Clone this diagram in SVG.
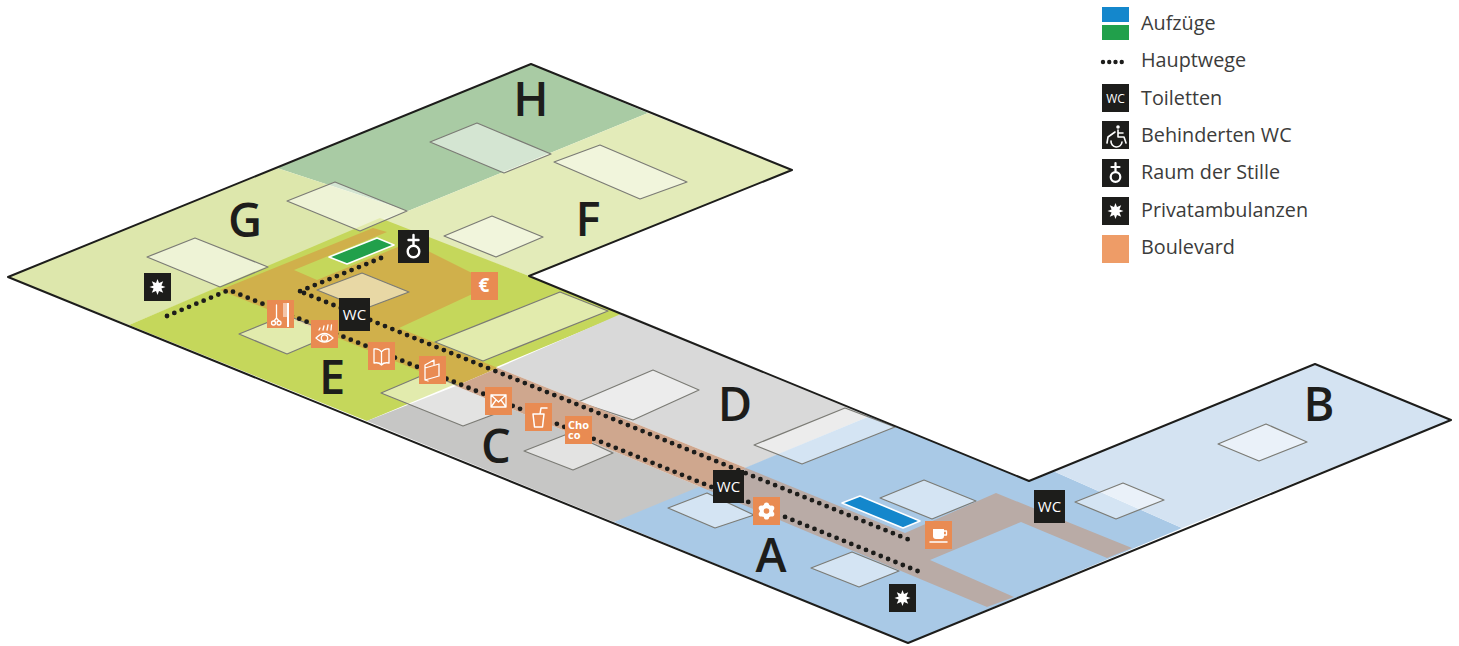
<svg xmlns="http://www.w3.org/2000/svg" xmlns:xlink="http://www.w3.org/1999/xlink" width="1459" height="646" viewBox="0 0 1459 646">
<style>
.room{fill:#fff;fill-opacity:.5;stroke:#7b7b75;stroke-width:1.2;stroke-linejoin:round}
.path{fill:none;stroke:#1d1d1b;stroke-width:4.8;stroke-linecap:round;stroke-dasharray:0 7.95}
.k{fill:#1d1d1b}.o{fill:#e98b52}
.wl{fill:none;stroke:#fff;stroke-width:1.3;stroke-linecap:round;stroke-linejoin:round}
.wt{fill:#fff;font-family:"Open Sans","Noto Sans",sans-serif}
.big{fill:#1d1d1b;font-family:"Open Sans","Noto Sans",sans-serif;font-size:47px;font-weight:600;text-anchor:middle}
.lg{fill:#3c3c3b;font-family:"Open Sans","Noto Sans",sans-serif;font-size:19.8px}
.lift{stroke:#fff;stroke-width:1.6;stroke-linejoin:round}
</style>
<defs>
<polygon id="star" fill="#fff" points="0,-8 1.500,-3.900 5.700,-5.700 3.900,-1.500 8,0 3.900,1.500 5.700,5.700 1.500,3.900 0,8 -1.500,3.900 -5.700,5.700 -3.900,1.500 -8,0 -3.900,-1.500 -5.700,-5.700 -1.500,-3.900"/>
<g id="still">
<path class="wl" style="stroke-width:2.400" d="M0,-11V-1M-5,-6H5"/>
<circle class="wl" style="stroke-width:2.400" cx="0" cy="5.500" r="5.800"/>
</g>
</defs>

<g id="zones">
<polygon id="zone-h" fill="#a9cba4" points="277,168 531,64 648,113 408,211"/>
<polygon id="zone-f" fill="#e3ebb9" points="648,113 792,170 529,276 380,220 408,211"/>
<polygon id="zone-g" fill="#dde7ac" points="8,277 277,168 408,211 380,220 129,325"/>
<polygon id="zone-e" fill="#c5d75b" points="129,325 380,218 529,276 623,314 367,421"/>
<polygon id="zone-d" fill="#d9d9d9" points="623,313 870,416 746,468 498,368"/>
<polygon id="zone-c" fill="#c6c6c5" points="367,421 456,386 708,490 614,522"/>
<polygon id="zone-a" fill="#a9c9e6" points="614,522 870,416 1029,481 1053,471 1182,528 908,643"/>
<polygon id="zone-b" fill="#d4e3f2" points="1053,471 1315,364 1451,420 1182,528"/>
<polygon id="zone-mustard" fill="#d0b04b" points="220,290 373,228 387,232 294,270 317,280 410,242 494,284 399,328 498,368 456,386"/>
</g>

<g id="rooms">
<polygon class="room" points="430,142 477,123 551,154 504,173"/>
<polygon class="room" points="554,162 600,145 687,182 640,199"/>
<polygon class="room" points="287,201 335,182 407,211 360,231"/>
<polygon class="room" points="147,257 195,238 268,267 220,287"/>
<polygon class="room" points="444,236 492,216 543,237 496,257"/>
<polygon class="room" points="239,334 286,315 334,334 287,354"/>
<polygon class="room" points="435,342 560,292 608,311 483,361"/>
<polygon class="room" points="381,393 428,373 511,408 463,426"/>
<polygon class="room" points="524,451 570,433 613,453 573,470"/>
<polygon class="room" points="578,402 653,370 699,390 633,420"/>
<polygon class="room" points="754,445 845,408 895,427 802,464"/>
<polygon class="room" points="668,508 707,493 754,515 715,528"/>
<polygon class="room" points="880,498 924,480 976,501 932,519"/>
<polygon class="room" points="811,568 852,552 899,571 859,587"/>
<polygon class="room" points="1075,502 1123,483 1164,500 1116,519"/>
<polygon class="room" points="1218,444 1266,424 1307,442 1259,461"/>
</g>

<g id="boulevard">
<polygon fill="#cfa78e" points="456,386 498,368 746,468 708,490"/>
<polygon fill="#b9aba6" points="708,490 746,468 905,533 996,493 1132,548 1107,558 1021,522 930,560 1014,597 987,607"/>
</g>
<polygon id="room-mustard" class="room" points="317,290 362,273 409,292 364,309"/>

<g id="outline">
<polygon fill="none" stroke="#1d1d1b" stroke-width="2" stroke-linejoin="round" points="8,277 531,64 792,170 529,276 1029,481 1315,364 1451,420 908,643"/>
</g>

<g id="lifts">
<polygon id="lift-green" class="lift" fill="#21a04b" points="329,257 377,238 394,245 347,264"/>
<polygon id="lift-blue" class="lift" fill="#1487cc" points="842,503 860,496 920,521 903,528"/>
</g>

<g id="connectors">
<polyline class="path" points="167,316 229,290 920,572"/>
<line class="path" x1="381" y1="258" x2="298" y2="292"/>
<line class="path" x1="304" y1="293" x2="912" y2="541"/>
</g>

<g id="labels">
<text class="big" x="531" y="116">H</text>
<text class="big" x="245" y="237">G</text>
<text class="big" x="588" y="236">F</text>
<text class="big" x="332" y="394">E</text>
<text class="big" x="735" y="421">D</text>
<text class="big" x="496" y="463">C</text>
<text class="big" x="1319" y="421">B</text>
<text class="big" x="771" y="572">A</text>
</g>

<g id="icon-star1" transform="translate(144,273)"><rect class="k" width="27" height="28"/><use xlink:href="#star" href="#star" x="13.500" y="14"/></g>
<g id="icon-star2" transform="translate(889,584)"><rect class="k" width="27" height="28"/><use xlink:href="#star" href="#star" x="13.500" y="14"/></g>
<g id="icon-still" transform="translate(398,230)"><rect class="k" width="31" height="33"/><use xlink:href="#still" href="#still" x="15.500" y="16"/></g>
<g id="icon-wc1" transform="translate(339,298)"><rect class="k" width="31" height="33"/><text class="wt" x="15.500" y="21.500" font-size="15" text-anchor="middle">WC</text></g>
<g id="icon-wc2" transform="translate(713,470)"><rect class="k" width="31" height="33"/><text class="wt" x="15.500" y="21.500" font-size="15" text-anchor="middle">WC</text></g>
<g id="icon-wc3" transform="translate(1034,490)"><rect class="k" width="31" height="33"/><text class="wt" x="15.500" y="21.500" font-size="15" text-anchor="middle">WC</text></g>

<g id="icon-hair" transform="translate(267,300)"><rect class="o" width="27" height="28"/>
<path class="wl" d="M9.500,5V18M9.500,18L7,21M9.500,18L12,21"/><circle class="wl" cx="6.500" cy="23" r="2"/><circle class="wl" cx="12" cy="23" r="2"/>
<path fill="#fff" d="M20,3H22V27H20Z"/><path stroke="#fff" stroke-width="1.100" d="M16,4H20M16,6H20M16,8H20M16,10H20M16,12H20M16,14H20M16,16H20"/></g>
<g id="icon-eye" transform="translate(311,320)"><rect class="o" width="27" height="28"/>
<path class="wl" d="M5,18Q13.500,9 22,18Q13.500,26 5,18Z"/><circle class="wl" cx="13.500" cy="18" r="3.200"/>
<path class="wl" d="M8,10L9,8M12,10L13,6M16,10L17,5M20,10L20.500,5"/></g>
<g id="icon-book" transform="translate(368,342)"><rect class="o" width="27" height="28"/>
<path class="wl" d="M13.500,10Q11,6 6,7V21Q11,20 13.500,23Q16,20 21,21V7Q16,6 13.500,10V23"/></g>
<g id="icon-leaflet" transform="translate(419,356)"><rect class="o" width="27" height="28"/>
<path class="wl" d="M6,12V24L20,20V8L6,12M6,12V9L15,4V9M9,25L6,24"/></g>
<g id="icon-euro" transform="translate(471,272)"><rect class="o" width="27" height="28"/><text class="wt" x="13" y="20" font-size="19" font-weight="700" text-anchor="middle">€</text></g>
<g id="icon-mail" transform="translate(485,387)"><rect class="o" width="27" height="28"/>
<path class="wl" d="M6,8H21V20H6ZM6,8L13.500,15L21,8M6,20L11,13M21,20L16,13"/></g>
<g id="icon-drink" transform="translate(525,403)"><rect class="o" width="27" height="28"/>
<path class="wl" d="M8,11H19L17.500,24H9.500ZM15,11L16,5H22" style="stroke-width:1.500"/></g>
<g id="icon-choco" transform="translate(565,416)"><rect class="o" width="27" height="28"/>
<text class="wt" x="3" y="12.500" font-size="11" font-weight="700">Cho<tspan x="3" dy="10.500">co</tspan></text></g>
<g id="icon-flower" transform="translate(753,497)"><rect class="o" width="27" height="28"/>
<circle cx="13.500" cy="14" r="4.800" fill="none" stroke="#fff" stroke-width="4"/>
<g fill="#fff"><circle cx="13.500" cy="8" r="2.600"/><circle cx="13.500" cy="20" r="2.600"/><circle cx="8.300" cy="11" r="2.600"/><circle cx="18.700" cy="11" r="2.600"/><circle cx="8.300" cy="17" r="2.600"/><circle cx="18.700" cy="17" r="2.600"/></g></g>
<g id="icon-coffee" transform="translate(925,521)"><rect class="o" width="27" height="28"/>
<path fill="#fff" d="M8,8H19V15Q19,18 16,18H11Q8,18 8,15Z"/><path class="wl" d="M19,10H21.500V14H19"/><path class="wl" d="M5,21H22" style="stroke-width:1.500"/></g>

<g id="legend">
<g id="legend-lifts"><rect x="1102" y="7" width="27" height="15" fill="#1487cc"/><rect x="1102" y="25" width="27" height="15" fill="#21a04b"/><text class="lg" x="1141" y="30">Aufzüge</text></g>
<g id="legend-paths"><line class="path" x1="1103" y1="62" x2="1128" y2="62" style="stroke-dasharray:0 6.250;stroke-width:4.400"/><text class="lg" x="1141" y="67">Hauptwege</text></g>
<g id="legend-wc"><rect class="k" x="1102" y="84" width="27" height="28"/><text class="wt" x="1115.500" y="102.500" font-size="12" text-anchor="middle">WC</text><text class="lg" x="1141" y="105">Toiletten</text></g>
<g id="legend-hwc"><rect class="k" x="1102" y="121" width="27" height="28"/>
<circle cx="1118" cy="127" r="1.800" fill="#fff"/>
<path class="wl" style="stroke-width:1.600" d="M1118,130V137H1124L1126,143M1118,133H1123M1115,132L1108,137L1107,143M1111,141A5.500,5.500 0 0 0 1122,142"/>
<text class="lg" x="1141" y="142">Behinderten WC</text></g>
<g id="legend-still"><rect class="k" x="1102" y="159" width="27" height="28"/>
<path class="wl" style="stroke-width:2.200" d="M1115.500,163V171M1111.500,167H1119.500"/><circle class="wl" style="stroke-width:2.200" cx="1115.500" cy="177" r="4.800"/>
<text class="lg" x="1141" y="179">Raum der Stille</text></g>
<g id="legend-star"><rect class="k" x="1102" y="197" width="27" height="28"/><use xlink:href="#star" href="#star" x="1115.500" y="211"/><text class="lg" x="1141" y="217">Privatambulanzen</text></g>
<g id="legend-boulevard"><rect x="1102" y="235" width="27" height="28" fill="#ee9c67"/><text class="lg" x="1141" y="254">Boulevard</text></g>
</g>
</svg>
